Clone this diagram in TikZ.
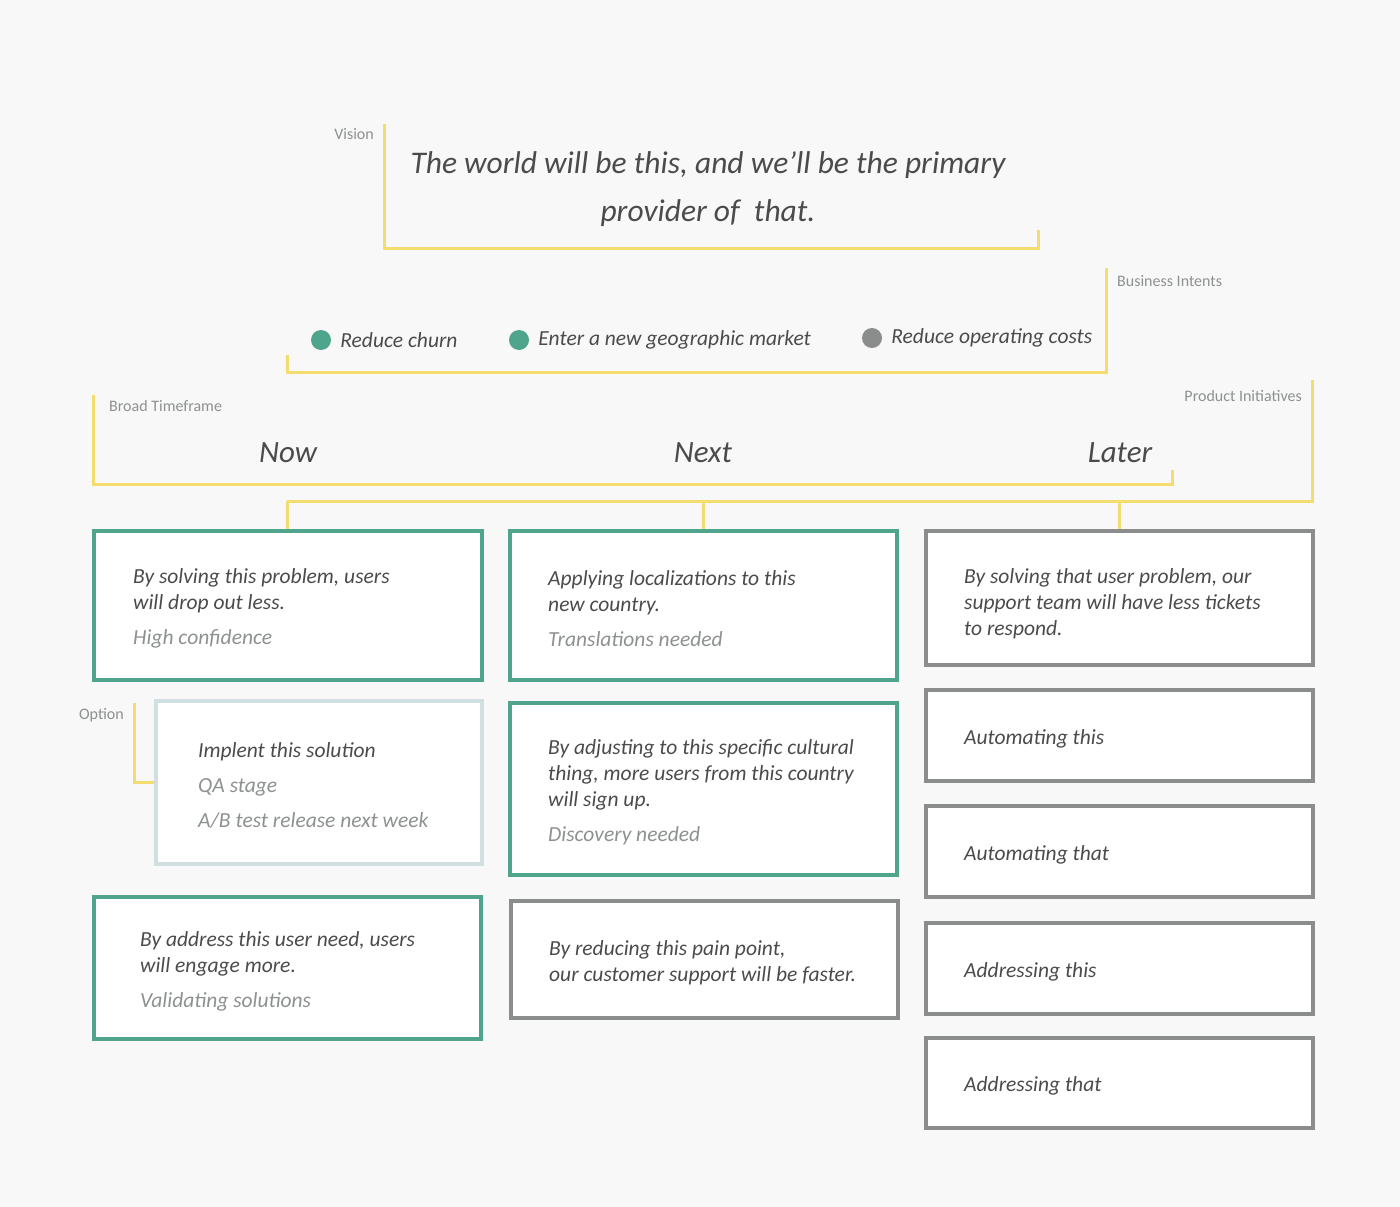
\documentclass[tikz,border=0pt]{standalone}
\usepackage{fontspec}
\setmainfont{Carlito}
\usetikzlibrary{positioning}

\definecolor{bg}{HTML}{F7F8F7}
\definecolor{bracket}{HTML}{F5DC6E}
\definecolor{okgreen}{HTML}{4FA58B}
\definecolor{latergray}{HTML}{8B8D8D}
\definecolor{optblue}{HTML}{D2DFE1}
\definecolor{ink}{HTML}{4B4B4B}
\definecolor{soft}{HTML}{8D9190}

\begin{document}
\begin{tikzpicture}[x=1pt, y=-1pt,
    tag/.style={font=\fontsize{16}{18}\selectfont, text=soft, inner sep=0pt},
    arm/.style={draw=bracket, line width=3pt},
    card/.style={draw, line width=4pt, fill=white, anchor=north west, inner sep=0pt},
    words/.style={anchor=west, align=left, inner sep=0pt, text=ink, yshift=-3pt,
      font=\itshape\fontsize{21.5}{26}\selectfont},
    intent/.style={anchor=west, inner sep=0pt, text=ink,
      font=\itshape\fontsize{21.5}{24}\selectfont},
    frame/.style={inner sep=0pt, text=ink, font=\itshape\fontsize{31}{36}\selectfont},
    dot/.style={circle, inner sep=0pt, minimum size=20pt}]

    \useasboundingbox[fill=bg] (0,0) rectangle (1400,1207);

    % vision
    \draw[arm] (384,124) -- (384,248) -- (1038,248) -- (1038,230);
    \node[tag, anchor=east] (visiontag) at (374,134) {Vision};
    \node[frame, align=center, font=\itshape\fontsize{31.5}{48}\selectfont] (vision) at (708,189)
      {The world will be this, and we'll be the primary\\provider of \ that.};

    % business intents
    \draw[arm] (287,355) -- (287,372) -- (1106,372) -- (1106,268);
    \node[tag, anchor=west] (intenttag) at (1117,281) {Business Intents};

    \node[dot, fill=okgreen] (d1) at (321,340) {};
    \node[intent, right=9pt of d1] (i1) {Reduce churn};
    \node[dot, fill=okgreen] (d2) at (519,340) {};
    \node[intent, right=9pt of d2] (i2) {Enter a new geographic market};
    \node[dot, fill=latergray] (d3) at (872,338) {};
    \node[intent, right=9pt of d3] (i3) {Reduce operating costs};

    % broad timeframe
    \draw[arm] (93,395) -- (93,484) -- (1172,484) -- (1172,470);
    \node[tag, anchor=west] (frametag) at (109,406) {Broad Timeframe};
    \node[frame] (now) at (288,453) {Now};
    \node[frame] (next) at (703,453) {Next};
    \node[frame] (later) at (1120,453) {Later};

    % product initiatives
    \node[tag, anchor=east] (inittag) at (1302,396) {Product Initiatives};
    \coordinate (p0) at (287,501);
    \coordinate (p1) at (703,501);
    \coordinate (p2) at (1119,501);
    \draw[arm] (1312,380) -- (1312,501) -- (p0);

    % now
    \node[card, draw=okgreen, minimum width=388pt, minimum height=149pt] (now1) at (92,529) {};
    \node[words] (now1t) at ([xshift=41pt]now1.west)
      {By solving this problem, users\\will drop out less.\\[9pt]{\color{soft}High confidence}};

    \node[card, draw=optblue, minimum width=326pt, minimum height=163pt] (opt) at (154,699) {};
    \node[words, font=\itshape\fontsize{21.5}{35}\selectfont] (optt) at ([xshift=44pt]opt.west)
      {Implent this solution\\{\color{soft}QA stage}\\{\color{soft}A/B test release next week}};
    \node[tag, anchor=east] (opttag) at (124,715) {Option};
    \draw[arm] (134,703) |- (opt.west);

    \node[card, draw=okgreen, minimum width=387pt, minimum height=142pt] (now2) at (92,895) {};
    \node[words] (now2t) at ([xshift=48pt]now2.west)
      {By address this user need, users\\will engage more.\\[9pt]{\color{soft}Validating solutions}};

    % next
    \node[card, draw=okgreen, minimum width=387pt, minimum height=149pt] (next1) at (508,529) {};
    \node[words] (next1t) at ([xshift=40pt]next1.west)
      {Applying localizations to this\\new country.\\[9pt]{\color{soft}Translations needed}};

    \node[card, draw=okgreen, minimum width=387pt, minimum height=172pt] (next2) at (508,701) {};
    \node[words] (next2t) at ([xshift=40pt]next2.west)
      {By adjusting to this specific cultural\\thing, more users from this country\\will sign up.\\[9pt]{\color{soft}Discovery needed}};

    \node[card, draw=latergray, minimum width=387pt, minimum height=117pt] (next3) at (509,899) {};
    \node[words] (next3t) at ([xshift=40pt]next3.west)
      {By reducing this pain point,\\our customer support will be faster.};

    % later
    \node[card, draw=latergray, minimum width=387pt, minimum height=134pt] (later1) at (924,529) {};
    \node[words, yshift=-3pt] (later1t) at ([xshift=40pt]later1.west)
      {By solving that user problem, our\\support team will have less tickets\\to respond.};

    \node[card, draw=latergray, minimum width=387pt, minimum height=91pt] (later2) at (924,688) {};
    \node[words] (later2t) at ([xshift=40pt]later2.west) {Automating this};

    \node[card, draw=latergray, minimum width=387pt, minimum height=91pt] (later3) at (924,804) {};
    \node[words] (later3t) at ([xshift=40pt]later3.west) {Automating that};

    \node[card, draw=latergray, minimum width=387pt, minimum height=91pt] (later4) at (924,921) {};
    \node[words] (later4t) at ([xshift=40pt]later4.west) {Addressing this};

    \node[card, draw=latergray, minimum width=387pt, minimum height=90pt] (later5) at (924,1036) {};
    \node[words] (later5t) at ([xshift=40pt]later5.west) {Addressing that};

    \draw[arm] (p0) -- (now1.north -| p0);
    \draw[arm] (p1) -- (next1.north -| p1);
    \draw[arm] (p2) -- (later1.north -| p2);

\end{tikzpicture}
\end{document}
